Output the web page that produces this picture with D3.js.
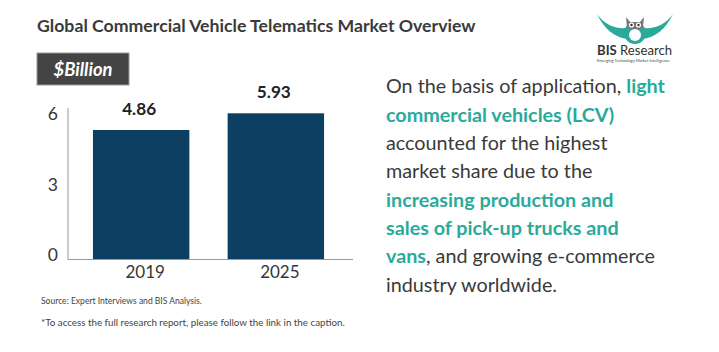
<!DOCTYPE html>
<html>
<head>
<meta charset="utf-8">
<script src="https://cdn.jsdelivr.net/npm/d3@7"></script>
<style>
  html, body { margin: 0; padding: 0; background: #fff; }
  svg { display: block; }
</style>
</head>
<body>
<div id="chart"></div>
<script>
"use strict";

// chart data
var years = ["2019", "2025"];
var barValues = [5.49, 6.2];          // bar heights as drawn in the picture
var valueLabels = ["4.86", "5.93"];   // printed labels above the bars
var yTicks = [0, 3, 6];

var title = "Global Commercial Vehicle Telematics Market Overview";
var unitLabel = "$Billion";
var source = "Source: Expert Interviews and BIS Analysis.";
var footnote = "*To access the full research report, please follow the link in the caption.";

// right-hand commentary, each line a list of [text, highlighted]
var notes = [
  [["On the basis of application, ", false], ["light", true]],
  [["commercial vehicles (LCV)", true]],
  [["accounted for the highest", false]],
  [["market share due to the", false]],
  [["increasing production and", true]],
  [["sales of pick-up trucks and", true]],
  [["vans", true], [", and growing e-commerce", false]],
  [["industry worldwide.", false]]
];

var W = 719, H = 352;
var teal = "#2aaa9b", navy = "#0d3f63", ink = "#363636";

var svg = d3.select("#chart").append("svg").attr("width", W).attr("height", H);

// scale a text's font size so it spans a target width
function fitWidth(sel, target) {
  var fs = parseFloat(sel.attr("font-size"));
  var w = sel.node().getComputedTextLength();
  sel.attr("font-size", (fs * target / w).toFixed(2));
  return fs * target / w;
}

// title
var t = svg.append("text").attr("x", 37).attr("y", 32)
  .attr("font-family", "Lato").attr("font-weight", 700).attr("font-size", 15)
  .attr("fill", "#3a3a3a").text(title);
fitWidth(t, 439);

// unit box
svg.append("rect").attr("x", 37).attr("y", 53).attr("width", 92).attr("height", 32)
  .attr("fill", "#444").attr("stroke", "#9a9a9a").attr("stroke-width", 1);
var u = svg.append("text").attr("x", 83).attr("y", 76).attr("text-anchor", "middle")
  .attr("font-family", "Lato").attr("font-weight", 700).attr("font-style", "italic")
  .attr("font-size", 19).attr("fill", "#fff").text(unitLabel);
fitWidth(u, 59);

// bar chart
var x = d3.scaleBand().domain(years).range([66, 351]).paddingInner(0.284).paddingOuter(0.2);
var y = d3.scaleLinear().domain([0, 6]).range([259, 118]);

var g = svg.append("g");

g.selectAll("rect.bar").data(barValues).enter().append("rect")
  .attr("class", "bar")
  .attr("x", function (d, i) { return x(years[i]); })
  .attr("width", x.bandwidth())
  .attr("y", function (d) { return y(d); })
  .attr("height", function (d) { return y(0) - y(d); })
  .attr("fill", navy);

var vals = g.selectAll("text.val").data(barValues).enter().append("text")
  .attr("class", "val")
  .attr("x", function (d, i) { return x(years[i]) + x.bandwidth() / 2 - 2; })
  .attr("y", function (d) { return y(d) - 15; })
  .attr("text-anchor", "middle")
  .attr("font-family", "Lato").attr("font-weight", 700).attr("font-size", 19)
  .attr("fill", "#222")
  .text(function (d, i) { return valueLabels[i]; });
var valSize = 19 * 34 / vals.nodes()[0].getComputedTextLength();
vals.attr("font-size", valSize.toFixed(2));

// axes
var yAxis = d3.axisLeft(y).tickValues(yTicks).tickFormat(d3.format("d"))
  .tickSize(0).tickPadding(10);
var ya = g.append("g").attr("transform", "translate(68,0)").call(yAxis);
ya.select(".domain").remove();
ya.selectAll("text").attr("font-family", "Lato").attr("font-size", 17.5)
  .attr("fill", ink).attr("dy", "0.1em");

g.append("line").attr("x1", 68).attr("x2", 68).attr("y1", 108).attr("y2", 260)
  .attr("stroke", "#999").attr("stroke-width", 1);

var xAxis = d3.axisBottom(x).tickSize(0).tickPadding(6);
var xa = g.append("g").attr("transform", "translate(0,259.5)").call(xAxis);
xa.select(".domain").remove();
xa.selectAll("text").attr("font-family", "Lato").attr("font-size", 17)
  .attr("fill", ink).attr("dx", 4);
g.append("line").attr("x1", 68).attr("x2", 353).attr("y1", 259.5).attr("y2", 259.5)
  .attr("stroke", "#999").attr("stroke-width", 1);

// source and footnote
var s = svg.append("text").attr("x", 41).attr("y", 304)
  .attr("font-family", "Lato").attr("font-size", 9).attr("fill", "#444").text(source);
fitWidth(s, 161);
var f = svg.append("text").attr("x", 41).attr("y", 326)
  .attr("font-family", "Lato").attr("font-size", 10).attr("fill", "#444").text(footnote);
fitWidth(f, 304);

// commentary
var noteBase = [93, 122, 150, 178, 207, 235, 263, 292];
var noteText = svg.append("g").attr("font-family", "Lato").attr("font-size", 20);
var lines = noteText.selectAll("text").data(notes).enter().append("text")
  .attr("x", 386).attr("y", function (d, i) { return noteBase[i]; });
lines.selectAll("tspan").data(function (d) { return d; }).enter().append("tspan")
  .attr("fill", function (d) { return d[1] ? teal : "#3a3a3a"; })
  .attr("font-weight", function (d) { return d[1] ? 700 : 400; })
  .text(function (d) { return d[0]; });
var w1 = lines.nodes()[0].getComputedTextLength();
noteText.attr("font-size", (20 * 279 / w1).toFixed(2));

// logo
var logo = svg.append("g").attr("transform", "translate(635,29)");
logo.append("path")
  .attr("d", "M-38,-15 C-30,-4 -20,0 -9,-1 L-7,10 C-20,9 -31,0 -38,-15 Z " +
             "M38,-15 C30,-4 20,0 9,-1 L7,10 C20,9 31,0 38,-15 Z")
  .attr("fill", teal);
logo.append("ellipse").attr("cx", 0).attr("cy", 4).attr("rx", 11).attr("ry", 11).attr("fill", teal);
logo.append("path").attr("d", "M-9,-12 L-5,-7 L5,-7 L9,-12 L8,-2 C6,2 -6,2 -8,-2 Z").attr("fill", "#777");
logo.append("circle").attr("cx", -3.5).attr("cy", -4).attr("r", 2.6).attr("fill", "#fff");
logo.append("circle").attr("cx", 3.5).attr("cy", -4).attr("r", 2.6).attr("fill", "#fff");
logo.append("circle").attr("cx", -3.5).attr("cy", -4).attr("r", 1.2).attr("fill", "#333");
logo.append("circle").attr("cx", 3.5).attr("cy", -4).attr("r", 1.2).attr("fill", "#333");
logo.append("ellipse").attr("cx", 0).attr("cy", 6).attr("rx", 6).attr("ry", 6).attr("fill", "#fff");

var lt = svg.append("text").attr("x", 597).attr("y", 55)
  .attr("font-family", "Lato").attr("font-size", 13).attr("fill", "#333");
lt.append("tspan").attr("font-weight", 700).text("BIS");
lt.append("tspan").attr("font-weight", 400).text(" Research");
fitWidth(lt, 75);
var ls = svg.append("text").attr("x", 597).attr("y", 62)
  .attr("font-family", "Lato").attr("font-size", 5).attr("fill", "#444")
  .text("Emerging Technology Market Intelligence");
fitWidth(ls, 73);
</script>
</body>
</html>
